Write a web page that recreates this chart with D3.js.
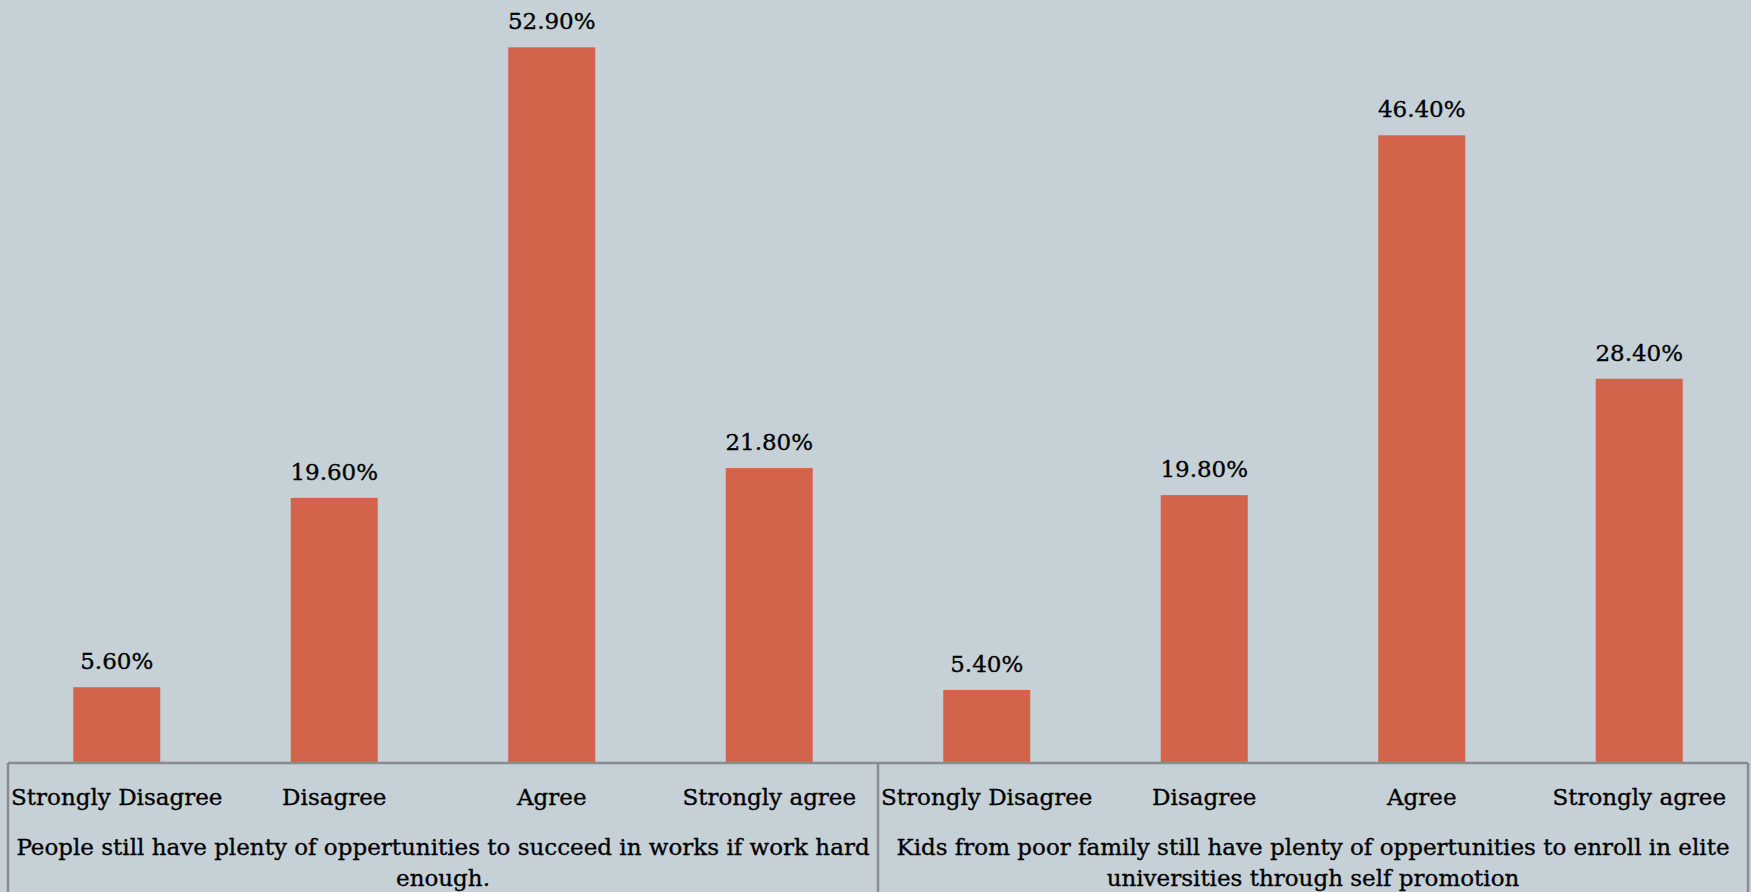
<!DOCTYPE html>
<html>
<head>
<meta charset="utf-8">
<script src="https://cdn.jsdelivr.net/npm/d3@7"></script>
<style>
  html, body { margin: 0; padding: 0; background: #c5d1d7; }
  svg { display: block; }
  text { font-family: "DejaVu Serif", serif; fill: #000; stroke: #000; stroke-width: 0.35px; }
</style>
</head>
<body>
<svg id="chart" width="1751" height="892"></svg>
<script>
// Response categories shared by both statements
const categories = ["Strongly Disagree", "Disagree", "Agree", "Strongly agree"];

// Statements (one panel each)
const statements = [
  "People still have plenty of oppertunities to succeed in works if work hard enough.",
  "Kids from poor family still have plenty of oppertunities to enroll in elite universities through self promotion"
];

// Percent of respondents per category
const valuesWork = [5.6, 19.6, 52.9, 21.8];
const valuesSchool = [5.4, 19.8, 46.4, 28.4];

const W = 1751, H = 892;
const left = 8, right = 1748, axisY = 763;
const svg = d3.select("#chart");

svg.append("rect").attr("width", W).attr("height", H).attr("fill", "#c5d1d7");

const panels = [
  { title: statements[0], values: valuesWork },
  { title: statements[1], values: valuesSchool }
];

const outer = d3.scaleBand().domain(d3.range(panels.length)).range([left, right]).padding(0);
const inner = d3.scaleBand().domain(categories).range([0, outer.bandwidth()]).paddingInner(0.6).paddingOuter(0.3);
const y = d3.scaleLinear().domain([0, 56.4]).range([axisY, 0]);
const fmt = v => d3.format(".2f")(v) + "%";

panels.forEach((p, i) => {
  const g = svg.append("g").attr("transform", `translate(${outer(i)},0)`);
  const data = categories.map((c, k) => ({ c, v: p.values[k] }));

  g.selectAll("rect.bar").data(data).join("rect")
    .attr("class", "bar")
    .attr("x", d => inner(d.c))
    .attr("y", d => y(d.v))
    .attr("width", inner.bandwidth())
    .attr("height", d => y(0) - y(d.v))
    .attr("fill", "#d3634a");

  g.selectAll("text.val").data(data).join("text")
    .attr("class", "val")
    .attr("x", d => inner(d.c) + inner.bandwidth() / 2)
    .attr("y", d => y(d.v) - 18)
    .attr("text-anchor", "middle")
    .attr("font-size", 23)
    .text(d => fmt(d.v));

  g.selectAll("text.cat").data(data).join("text")
    .attr("class", "cat")
    .attr("x", d => inner(d.c) + inner.bandwidth() / 2)
    .attr("y", 805)
    .attr("text-anchor", "middle")
    .attr("font-size", 23)
    .text(d => d.c);

  // Wrap the statement into centered lines
  const maxW = outer.bandwidth() - 14;
  const t = g.append("text")
    .attr("class", "title")
    .attr("text-anchor", "middle")
    .attr("font-size", 23);
  const words = p.title.split(" ");
  let line = [], lineNo = 0;
  let tspan = t.append("tspan").attr("x", outer.bandwidth() / 2).attr("y", 855);
  words.forEach(w => {
    line.push(w);
    tspan.text(line.join(" "));
    if (tspan.node().getComputedTextLength() > maxW && line.length > 1) {
      line.pop();
      tspan.text(line.join(" "));
      line = [w];
      lineNo++;
      tspan = t.append("tspan").attr("x", outer.bandwidth() / 2).attr("y", 855 + lineNo * 31).text(w);
    }
  });
});

// Category axis frame: baseline, panel dividers and outer edges
const frame = svg.append("g").attr("stroke", "#8c8c8c").attr("stroke-width", 2.5).attr("fill", "none");
frame.append("line").attr("x1", left).attr("x2", right).attr("y1", axisY).attr("y2", axisY);
[left, outer(1), right].forEach(x => {
  frame.append("line").attr("x1", x).attr("x2", x).attr("y1", axisY).attr("y2", H);
});
</script>
</body>
</html>
